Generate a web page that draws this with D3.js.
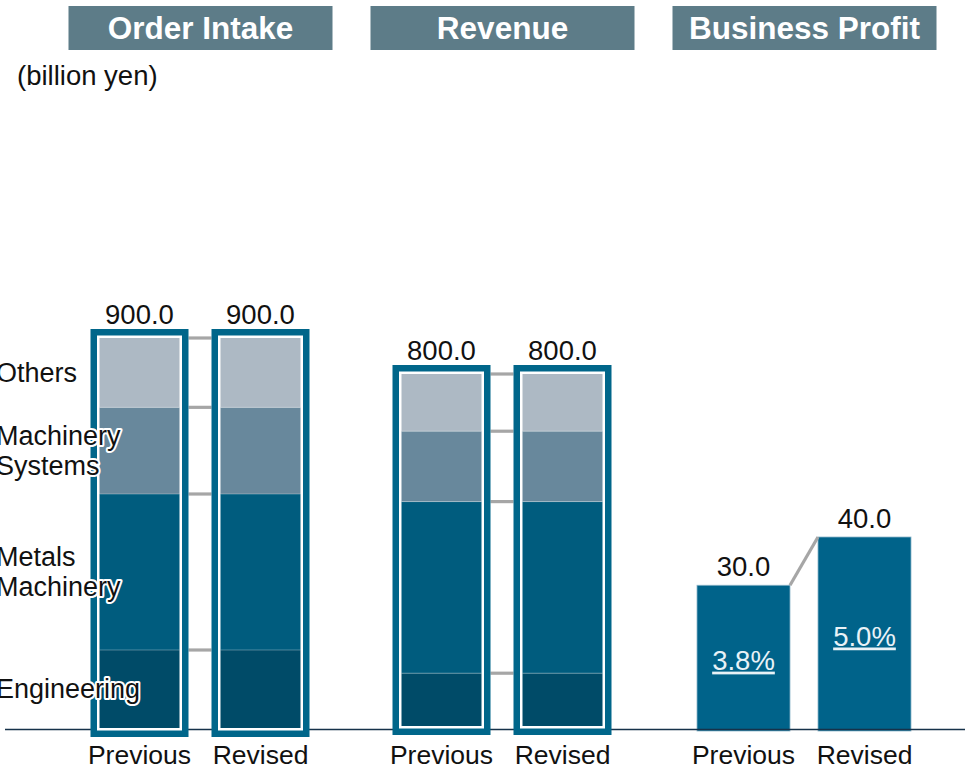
<!DOCTYPE html>
<html><head><meta charset="utf-8">
<script src="https://cdn.jsdelivr.net/npm/d3@7"></script>
<style>
html,body{margin:0;padding:0;background:#fff;}
svg{display:block;font-family:"Liberation Sans",Arial,sans-serif;}
</style></head>
<body>
<svg id="chart" width="965" height="766"></svg>
<script>
// ---- data ----
const panels = ["Order Intake", "Revenue", "Business Profit"];
const scenarios = ["Previous", "Revised"];
const segments = ["Engineering", "Metals Machinery", "Machinery Systems", "Others"];
const segmentLabelLines = [["Engineering"], ["Metals", "Machinery"], ["Machinery", "Systems"], ["Others"]];
const orderIntakePrevious = [180, 360, 200, 160];
const orderIntakeRevised  = [180, 360, 200, 160];
const revenuePrevious = [120, 390, 160, 130];
const revenueRevised  = [120, 390, 160, 130];
const profitValues = [30.0, 40.0];
const profitMargins = ["3.8%", "5.0%"];
const unitLabel = "(billion yen)";

// ---- styles ----
const segColors = ["#004b68", "#005c7e", "#68889c", "#adb9c4"];
const frameColor = "#00668a";
const titleBg = "#5d7c88";
const connColor = "#a6a6a6";

const svg = d3.select("#chart");

// panel band scale and scenario point scale
const x0 = d3.scaleBand().domain(panels).range([49.5, 955.5]);
const x1 = d3.scalePoint().domain(scenarios).range([90, 211]);
const cx = (p, s) => x0(p) + x1(s);

const yOI = d3.scaleLinear().domain([0, 900]).range([728, 338]);
const yRev = d3.scaleLinear().domain([0, 800]).range([726, 374]);
const yBP = d3.scaleLinear().domain([0, 40]).range([730, 537]);

// ---- titles ----
panels.forEach(p => {
  const c = x0(p) + x0.bandwidth() / 2;
  svg.append("rect").attr("x", c - 132).attr("y", 6).attr("width", 264).attr("height", 44).attr("fill", titleBg);
  svg.append("text").attr("x", c).attr("y", 39).attr("text-anchor", "middle")
    .attr("font-size", 31.5).attr("font-weight", "bold").attr("fill", "#fff").text(p);
});
svg.append("text").attr("x", 17).attr("y", 85).attr("font-size", 27.5).attr("fill", "#111").text(unitLabel);

// ---- business profit bars (under axis line) ----
const bpW = 93;
scenarios.forEach((s, i) => {
  svg.append("rect").attr("x", cx("Business Profit", s) - bpW / 2).attr("y", yBP(profitValues[i]))
    .attr("width", bpW).attr("height", yBP(0) - yBP(profitValues[i]) + 1)
    .attr("fill", "#00638a").attr("stroke", "#8ab4c8").attr("stroke-width", 0.8);
});

// ---- axis baseline ----
svg.append("line").attr("x1", 5).attr("x2", 965).attr("y1", 729.5).attr("y2", 729.5)
  .attr("stroke", "#16324a").attr("stroke-width", 1.5);

// ---- stacked framed bars ----
function stackedPanel(panel, y, prevVals, revVals) {
  const barW = 80;
  const data = {Previous: prevVals, Revised: revVals};
  const stacks = {};
  scenarios.forEach(s => {
    stacks[s] = d3.stack().keys(segments)([Object.fromEntries(segments.map((k, i) => [k, data[s][i]]))]);
  });
  // connectors
  const cum = d3.cumsum(prevVals);
  const xa = cx(panel, "Previous") + barW / 2 + 9, xb = cx(panel, "Revised") - barW / 2 - 9;
  Array.from(cum).forEach(v => {
    svg.append("line").attr("x1", xa).attr("x2", xb).attr("y1", y(v)).attr("y2", y(v))
      .attr("stroke", connColor).attr("stroke-width", 3.2);
  });
  scenarios.forEach(s => {
    const c = cx(panel, s);
    const total = d3.sum(data[s]);
    const top = y(total), bot = y(0);
    svg.append("rect").attr("x", c - barW / 2 - 9).attr("y", top - 9)
      .attr("width", barW + 18).attr("height", bot - top + 18).attr("fill", frameColor);
    svg.append("rect").attr("x", c - barW / 2 - 2.5).attr("y", top - 2.5)
      .attr("width", barW + 5).attr("height", bot - top + 5).attr("fill", "#fff");
    stacks[s].forEach((layer, i) => {
      const d = layer[0];
      svg.append("rect").attr("x", c - barW / 2).attr("y", y(d[1]))
        .attr("width", barW).attr("height", y(d[0]) - y(d[1]))
        .attr("fill", segColors[i]);
      if (i > 0) {
        svg.append("line").attr("x1", c - barW / 2).attr("x2", c + barW / 2)
          .attr("y1", y(d[0])).attr("y2", y(d[0]))
          .attr("stroke", "#ffffff").attr("stroke-opacity", 0.3).attr("stroke-width", 1);
      }
    });
    svg.append("text").attr("x", c).attr("y", top - 14).attr("text-anchor", "middle")
      .attr("font-size", 27.5).attr("fill", "#111").text(total.toFixed(1));
  });
  return stacks;
}
const oiStacks = stackedPanel("Order Intake", yOI, orderIntakePrevious, orderIntakeRevised);
stackedPanel("Revenue", yRev, revenuePrevious, revenueRevised);

// ---- segment labels (left, halo) ----
oiStacks.Previous.forEach((layer, i) => {
  const d = layer[0];
  const mid = (yOI(d[0]) + yOI(d[1])) / 2;
  const lines = segmentLabelLines[i];
  const lh = 30;
  const y0 = mid + 9 - (lines.length - 1) * lh / 2;
  const t = svg.append("text").attr("x", -4).attr("y", y0).attr("font-size", 27)
    .attr("fill", "#111").attr("stroke", "#fff").attr("stroke-width", 4)
    .attr("stroke-linejoin", "round").attr("paint-order", "stroke");
  lines.forEach((ln, j) => t.append("tspan").attr("x", -4).attr("dy", j === 0 ? 0 : lh).text(ln));
});

// ---- business profit labels ----
scenarios.forEach((s, i) => {
  const c = cx("Business Profit", s);
  const top = yBP(profitValues[i]);
  svg.append("text").attr("x", c).attr("y", top - 9).attr("text-anchor", "middle")
    .attr("font-size", 27.5).attr("fill", "#111").text(profitValues[i].toFixed(1));
  svg.append("text").attr("x", c).attr("y", (top + yBP(0)) / 2 + 12).attr("text-anchor", "middle")
    .attr("font-size", 27.5).attr("fill", "#e8f2f7").attr("text-decoration", "underline")
    .text(profitMargins[i]);
});
svg.append("line")
  .attr("x1", cx("Business Profit", "Previous") + bpW / 2).attr("y1", yBP(profitValues[0]))
  .attr("x2", cx("Business Profit", "Revised") - bpW / 2).attr("y2", yBP(profitValues[1]))
  .attr("stroke", connColor).attr("stroke-width", 3.2);

// ---- scenario labels ----
panels.forEach(p => scenarios.forEach(s => {
  svg.append("text").attr("x", cx(p, s)).attr("y", 764).attr("text-anchor", "middle")
    .attr("font-size", 26.5).attr("fill", "#111").text(s);
}));
</script>
</body></html>
